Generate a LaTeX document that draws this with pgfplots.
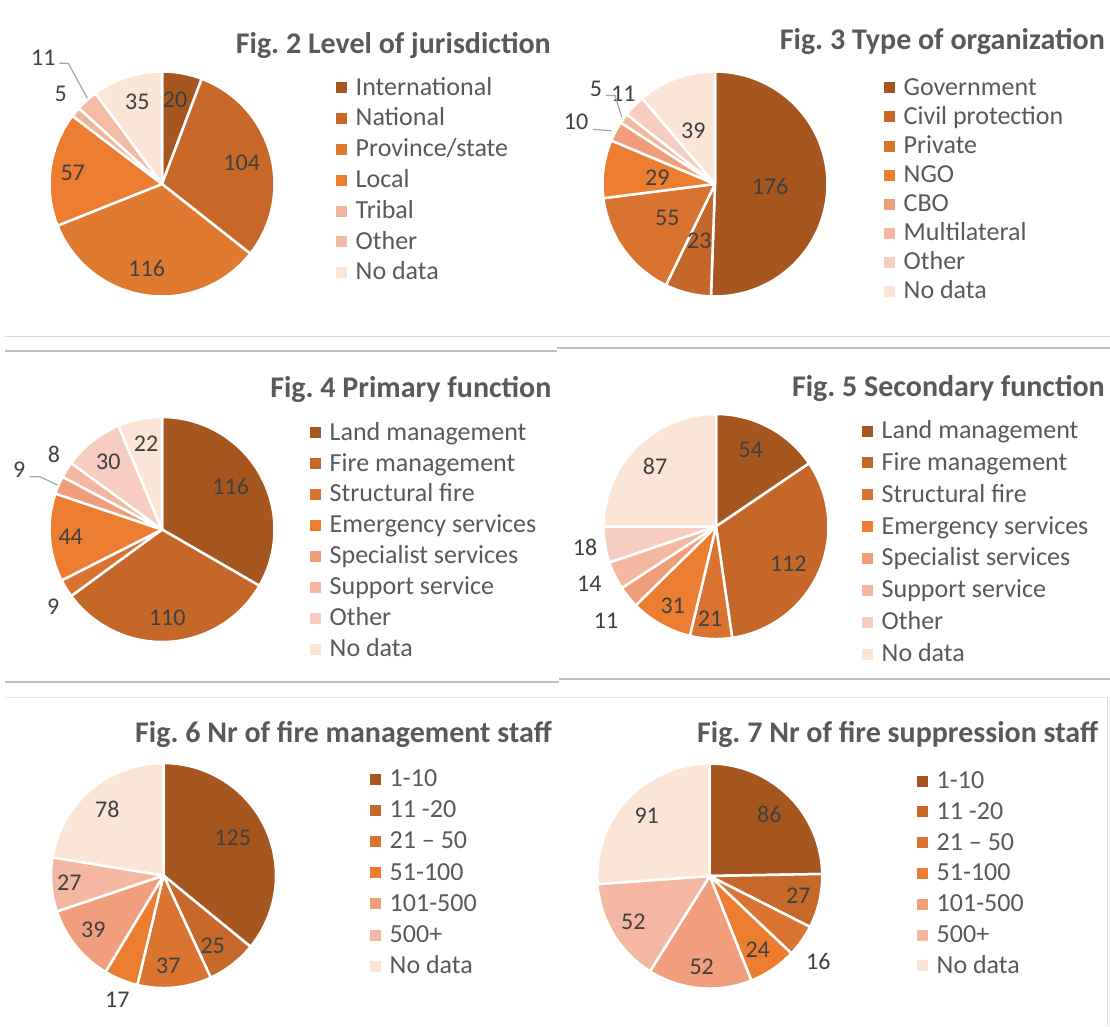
\documentclass[border=0pt]{standalone}
\usepackage{fontspec}
\setmainfont{Carlito}
\usepackage{pgfplots}
\usepackage{pgfplotstable}
\pgfplotsset{compat=1.18}
\frenchspacing

\definecolor{legtext}{HTML}{595959}
\definecolor{labtext}{HTML}{404040}
\definecolor{leader}{HTML}{A6A6A6}
% Fig 2 palette
\definecolor{fA1}{HTML}{A6561F}
\definecolor{fA2}{HTML}{C76829}
\definecolor{fA3}{HTML}{E07A31}
\definecolor{fA4}{HTML}{ED7D31}
\definecolor{fA5}{HTML}{F2B39B}
\definecolor{fA6}{HTML}{F4BBA5}
\definecolor{fA7}{HTML}{FBE5D6}
% 8-series palette
\definecolor{fB1}{HTML}{A6561F}
\definecolor{fB2}{HTML}{C46729}
\definecolor{fB3}{HTML}{D9732F}
\definecolor{fB4}{HTML}{ED7D31}
\definecolor{fB5}{HTML}{F09D7A}
\definecolor{fB6}{HTML}{F4B7A0}
\definecolor{fB7}{HTML}{F7CDC1}
\definecolor{fB8}{HTML}{FBE5D6}
% 7-series palette
\definecolor{fC1}{HTML}{A6561F}
\definecolor{fC2}{HTML}{C5682A}
\definecolor{fC3}{HTML}{DB7430}
\definecolor{fC4}{HTML}{ED7D31}
\definecolor{fC5}{HTML}{F09E7B}
\definecolor{fC6}{HTML}{F4B8A2}
\definecolor{fC7}{HTML}{FBE5D6}

\newcommand\titlefont{\fontsize{30}{36}\selectfont\bfseries}
\newcommand\legfont{\fontsize{26}{31}\selectfont}
\newcommand\labfont{\fontsize{24}{29}\selectfont}

\pgfplotstableread[col sep=comma]{
label,value,col
International,20,fA1
National,104,fA2
Province/state,116,fA3
Local,57,fA4
Tribal,5,fA5
Other,11,fA6
No data,35,fA7
}\figtwo

\pgfplotstableread[col sep=comma]{
label,value,col
Government,176,fB1
Civil protection,23,fB2
Private,55,fB3
NGO,29,fB4
CBO,10,fB5
Multilateral,5,fB6
Other,11,fB7
No data,39,fB8
}\figthree

\pgfplotstableread[col sep=comma]{
label,value,col
Land management,116,fB1
Fire management,110,fB2
Structural fire,9,fB3
Emergency services,44,fB4
Specialist services,9,fB5
Support service,8,fB6
Other,30,fB7
No data,22,fB8
}\figfour

\pgfplotstableread[col sep=comma]{
label,value,col
Land management,54,fB1
Fire management,112,fB2
Structural fire,21,fB3
Emergency services,31,fB4
Specialist services,11,fB5
Support service,14,fB6
Other,18,fB7
No data,87,fB8
}\figfive

\pgfplotstableread[col sep=comma]{
label,value,col
1-10,125,fC1
11 -20,25,fC2
21 – 50,37,fC3
51-100,17,fC4
101-500,39,fC5
500+,27,fC6
No data,78,fC7
}\figsix

\pgfplotstableread[col sep=comma]{
label,value,col
1-10,86,fC1
11 -20,27,fC2
21 – 50,16,fC3
51-100,24,fC4
101-500,52,fC5
500+,52,fC6
No data,91,fC7
}\figseven

\newcommand{\drawpie}[1]{%
  \pgfplotstablegetrowsof{#1}%
  \pgfmathtruncatemacro\lastrow{\pgfplotsretval-1}%
  \def\total{0}%
  \pgfplotsforeachungrouped \i in {0,...,\lastrow}{%
    \pgfplotstablegetelem{\i}{value}\of{#1}%
    \pgfmathsetmacro\total{\total+\pgfplotsretval}%
  }%
  \def\cum{0}%
  \pgfplotsforeachungrouped \i in {0,...,\lastrow}{%
    \pgfplotstablegetelem{\i}{value}\of{#1}\let\sliceval\pgfplotsretval
    \pgfplotstablegetelem{\i}{col}\of{#1}\let\slicecol\pgfplotsretval
    \pgfplotstablegetelem{\i}{label}\of{#1}\let\slicelab\pgfplotsretval
    \pgfmathsetmacro\newcum{\cum+\sliceval}%
    \pgfmathsetmacro\astart{90-(\newcum/\total)*360}%
    \pgfmathsetmacro\aend{90-(\cum/\total)*360}%
    \edef\doplot{\noexpand\addplot[fill=\slicecol,draw=white,line width=2.5pt,line join=round,domain=\astart:\aend,samples=60] ({cos(x)},{sin(x)}) -- (axis cs:0,0) -- cycle;\noexpand\addlegendentry{\slicelab}}%
    \doplot
    \let\cum\newcum
  }%
}

\pgfplotsset{
  pie/.style={hide axis, scale only axis, width=225pt, height=225pt,
    xmin=-1, xmax=1, ymin=-1, ymax=1, clip=false, anchor=center,
    legend cell align=left,
    legend image code/.code={\fill[##1,draw=none] (0pt,1.8pt) rectangle (11pt,12.8pt);},
    legend style={draw=none, fill=none, inner sep=0pt, row sep=0pt,
      column sep=8.5pt, font=\legfont, text=legtext, anchor=north west}},
}

\begin{document}
\begin{tikzpicture}[x=1pt,y=-1pt]
\useasboundingbox (0,0) rectangle (1110,1026);

% separator lines
\draw[color=black!15, line width=1pt] (5,336) -- (1110,336);
\draw[color=black!25, line width=1.5pt] (5,351) -- (557,351);
\draw[color=black!25, line width=1.5pt] (557,348) -- (1110,348);
\draw[color=black!25, line width=1.5pt] (5,682) -- (559,682);
\draw[color=black!25, line width=1.5pt] (559,679) -- (1110,679);
\draw[color=black!10, line width=1pt] (5,697) -- (1107,697);
\draw[color=black!15, line width=1pt] (1107,697) -- (1107,1026);

% ---------- Fig 2 ----------
\begin{axis}[pie, at={(162pt,-184pt)},
  legend style={at={(axis cs:1.5467,1.0018)}, nodes={inner sep=0pt, anchor=base west, text height=23.6pt, text depth=7.2pt}}]
\drawpie{\figtwo}
\end{axis}
\node[anchor=base east, font=\titlefont, text=legtext, inner sep=0pt] at (551,53) {Fig. 2 Level of jurisdiction};
\begin{scope}[font=\labfont, text=labtext]
\node at (175,99.3) {20};
\node at (241.7,162.3) {104};
\node at (146.7,268.3) {116};
\node at (72.7,173.3) {57};
\node at (137.3,101.7) {35};
\node at (43.3,57.7) {11};
\node at (60.7,94.3) {5};
\end{scope}
\draw[leader, line width=1.2pt] (59.3,63.3) -- (68.3,63.3) -- (87.3,98.3);

% ---------- Fig 3 ----------
\begin{axis}[pie, at={(715pt,-184pt)},
  legend style={at={(axis cs:1.5022,0.9942)}, nodes={inner sep=0pt, anchor=base west, text height=22.75pt, text depth=6.35pt}}]
\drawpie{\figthree}
\end{axis}
\node[anchor=base east, font=\titlefont, text=legtext, inner sep=0pt] at (1105,49) {Fig. 3 Type of organization};
\begin{scope}[font=\labfont, text=labtext]
\node at (770,186) {176};
\node at (699.3,241) {23};
\node at (667.3,218.3) {55};
\node at (657.3,177.3) {29};
\node at (693.3,131) {39};
\node at (596,89.3) {5};
\node at (623.3,93.3) {11};
\node at (576,122) {10};
\end{scope}
\draw[leader, line width=1.2pt] (606,95.5) -- (615,95.5) -- (621.7,117);
\draw[leader, line width=1.2pt] (592.7,129.3) -- (611.7,130.7);

% ---------- Fig 4 ----------
\begin{axis}[pie, at={(162pt,-529.5pt)},
  legend style={at={(axis cs:1.3156,1.0067)}, nodes={inner sep=0pt, anchor=base west, text height=23.65pt, text depth=7.25pt}}]
\drawpie{\figfour}
\end{axis}
\node[anchor=base east, font=\titlefont, text=legtext, inner sep=0pt] at (551.7,397.3) {Fig. 4 Primary function};
\begin{scope}[font=\labfont, text=labtext]
\node at (230.7,486.7) {116};
\node at (167.3,617.3) {110};
\node at (53.3,606.7) {9};
\node at (70.7,536.7) {44};
\node at (19.3,469.3) {9};
\node at (54,454) {8};
\node at (108.3,461.7) {30};
\node at (146,444) {22};
\end{scope}
\draw[leader, line width=1.2pt] (29.3,476.7) -- (40,476.7) -- (57.3,485);

% ---------- Fig 5 ----------
\begin{axis}[pie, at={(716pt,-526.5pt)},
  legend style={at={(axis cs:1.2978,1.0)}, nodes={inner sep=0pt, anchor=base west, text height=24.15pt, text depth=7.75pt}}]
\drawpie{\figfive}
\end{axis}
\node[anchor=base east, font=\titlefont, text=legtext, inner sep=0pt] at (1105,396) {Fig. 5 Secondary function};
\begin{scope}[font=\labfont, text=labtext]
\node at (750.7,450) {54};
\node at (788.3,564) {112};
\node at (710,618.3) {21};
\node at (672.7,606) {31};
\node at (606,620.7) {11};
\node at (589.3,584) {14};
\node at (585,547.3) {18};
\node at (655,466) {87};
\end{scope}

% ---------- Fig 6 ----------
\begin{axis}[pie, at={(163.5pt,-875.5pt)},
  legend style={at={(axis cs:1.8356,1.0053)}, nodes={inner sep=0pt, anchor=base west, text height=23.8pt, text depth=7.4pt}}]
\drawpie{\figsix}
\end{axis}
\node[anchor=base east, font=\titlefont, text=legtext, inner sep=0pt] at (552,742) {Fig. 6 Nr of fire management staff};
\begin{scope}[font=\labfont, text=labtext]
\node at (232.7,837.3) {125};
\node at (212.7,946) {25};
\node at (168.3,966) {37};
\node at (117.3,999.3) {17};
\node at (93.3,930) {39};
\node at (69.3,882.7) {27};
\node at (107.3,809.3) {78};
\end{scope}

% ---------- Fig 7 ----------
\begin{axis}[pie, at={(709.7pt,-876pt)},
  legend style={at={(axis cs:1.8427,0.9902)}, nodes={inner sep=0pt, anchor=base west, text height=23.6pt, text depth=7.2pt}}]
\drawpie{\figseven}
\end{axis}
\node[anchor=base east, font=\titlefont, text=legtext, inner sep=0pt] at (1098.3,742.7) {Fig. 7 Nr of fire suppression staff};
\begin{scope}[font=\labfont, text=labtext]
\node at (769.3,814) {86};
\node at (798.3,896) {27};
\node at (818.3,961.7) {16};
\node at (757.7,949.3) {24};
\node at (701.7,966.7) {52};
\node at (633.3,921.7) {52};
\node at (646.7,816) {91};
\end{scope}
\end{tikzpicture}
\end{document}
